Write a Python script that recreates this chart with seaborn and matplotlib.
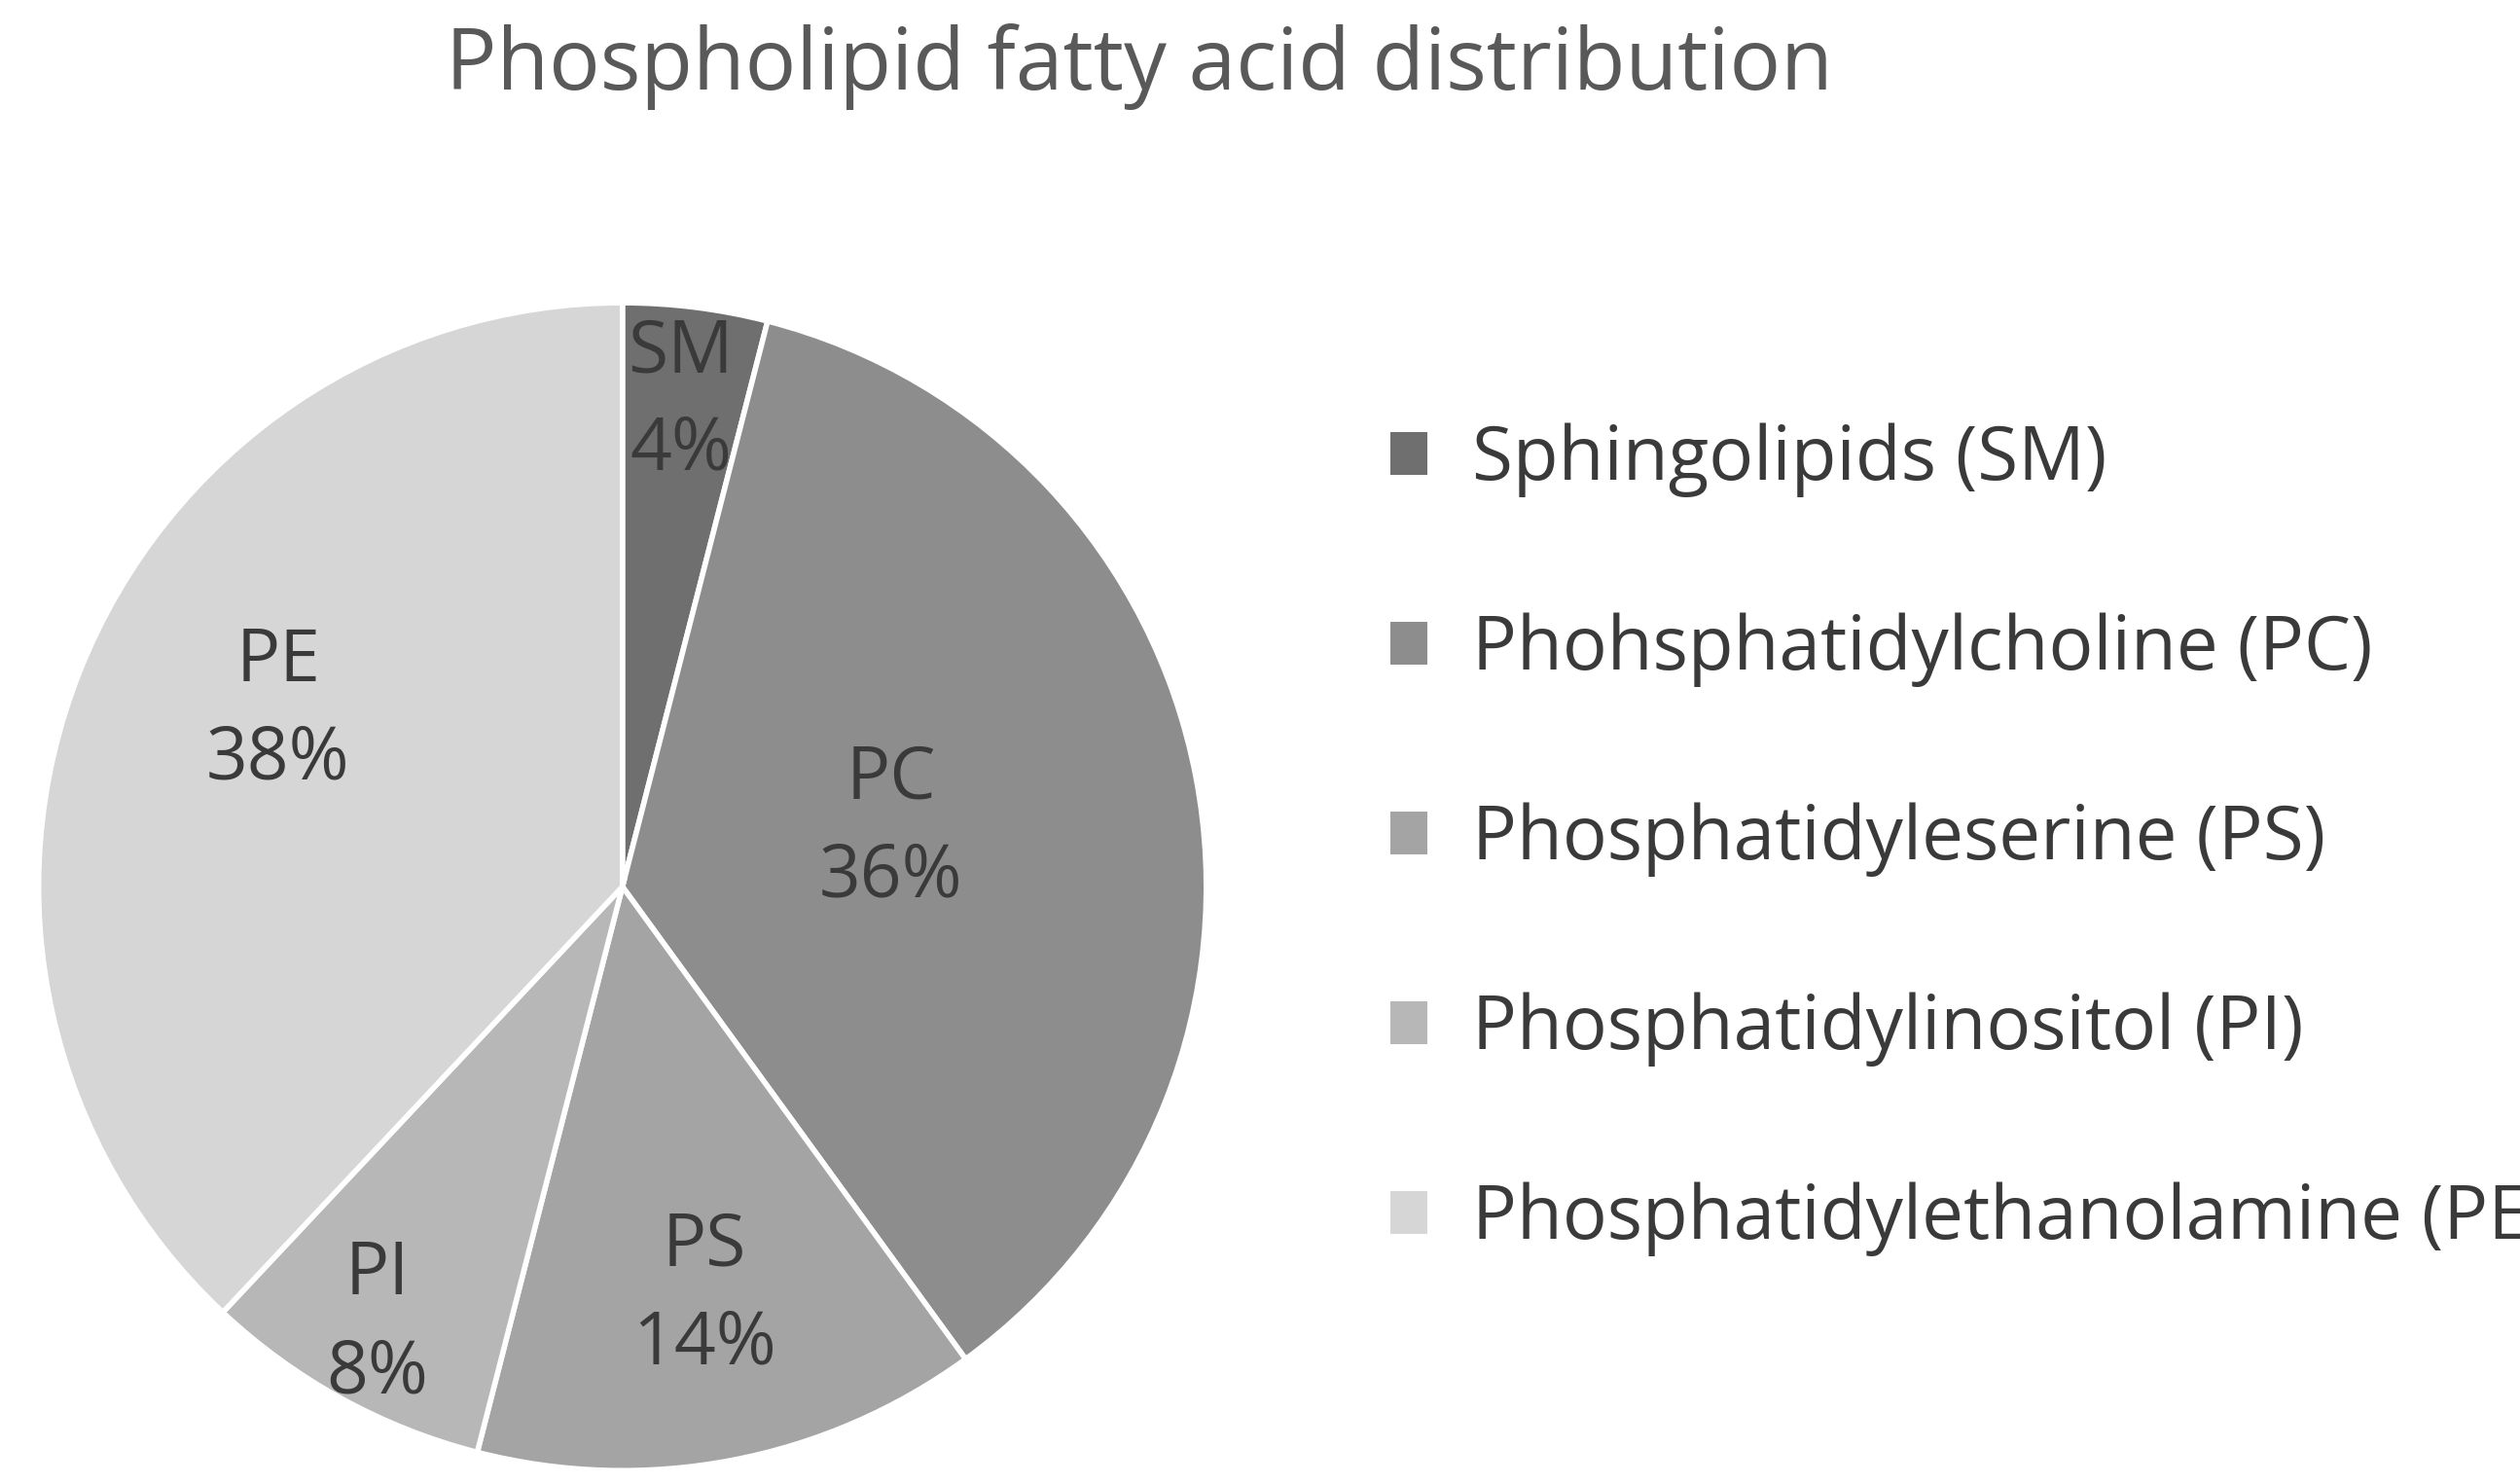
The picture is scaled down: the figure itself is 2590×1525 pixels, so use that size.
import matplotlib
matplotlib.use("Agg")
import matplotlib.pyplot as plt
import seaborn as sns
from matplotlib.patches import Patch

sns.set_theme(style="white")
plt.rcParams['font.family'] = ['Open Sans', 'DejaVu Sans']

short = ['SM', 'PC', 'PS', 'PI', 'PE']
names = ['Sphingolipids (SM)', 'Phohsphatidylcholine (PC)', 'Phosphatidyleserine (PS)',
         'Phosphatidylinositol (PI)', 'Phosphatidylethanolamine (PE)']
values = [4, 36, 14, 8, 38]
colors = ['#6f6f6f', '#8d8d8d', '#a4a4a4', '#b7b7b7', '#d6d6d6']
label_pos = [(0.10, 0.83), (0.46, 0.10), (0.14, -0.70), (-0.42, -0.75), (-0.59, 0.30)]

fig = plt.figure(figsize=(25.9, 15.25), dpi=100)
ax = fig.add_axes([0.013, 0.005, 0.468, 0.795])
wedges, texts = ax.pie(values, colors=colors, startangle=90, counterclock=False,
                       wedgeprops=dict(edgecolor='white', linewidth=4),
                       labels=[f'{s}\n{v}%' for s, v in zip(short, values)],
                       textprops=dict(fontsize=54, color='#3a3a3a', ha='center', va='center',
                                      linespacing=1.45))
for t, p in zip(texts, label_pos):
    t.set_position(p)
    t.set_ha('center')
ax.set_xlim(-1.01, 1.01)
ax.set_ylim(-1.01, 1.01)
ax.set_aspect('equal')

fig.text(0.452, 0.955, 'Phospholipid fatty acid distribution', ha='center', va='center',
         fontsize=63, color='#595959')

handles = [Patch(facecolor=c, edgecolor='none') for c in colors]
fig.legend(handles, names, loc='upper left', bbox_to_anchor=(0.525, 0.76), frameon=False,
           fontsize=55, labelspacing=1.55, handlelength=0.5, handleheight=0.5,
           handletextpad=0.6, labelcolor='#3a3a3a')

fig.savefig('out.png', dpi=100)
